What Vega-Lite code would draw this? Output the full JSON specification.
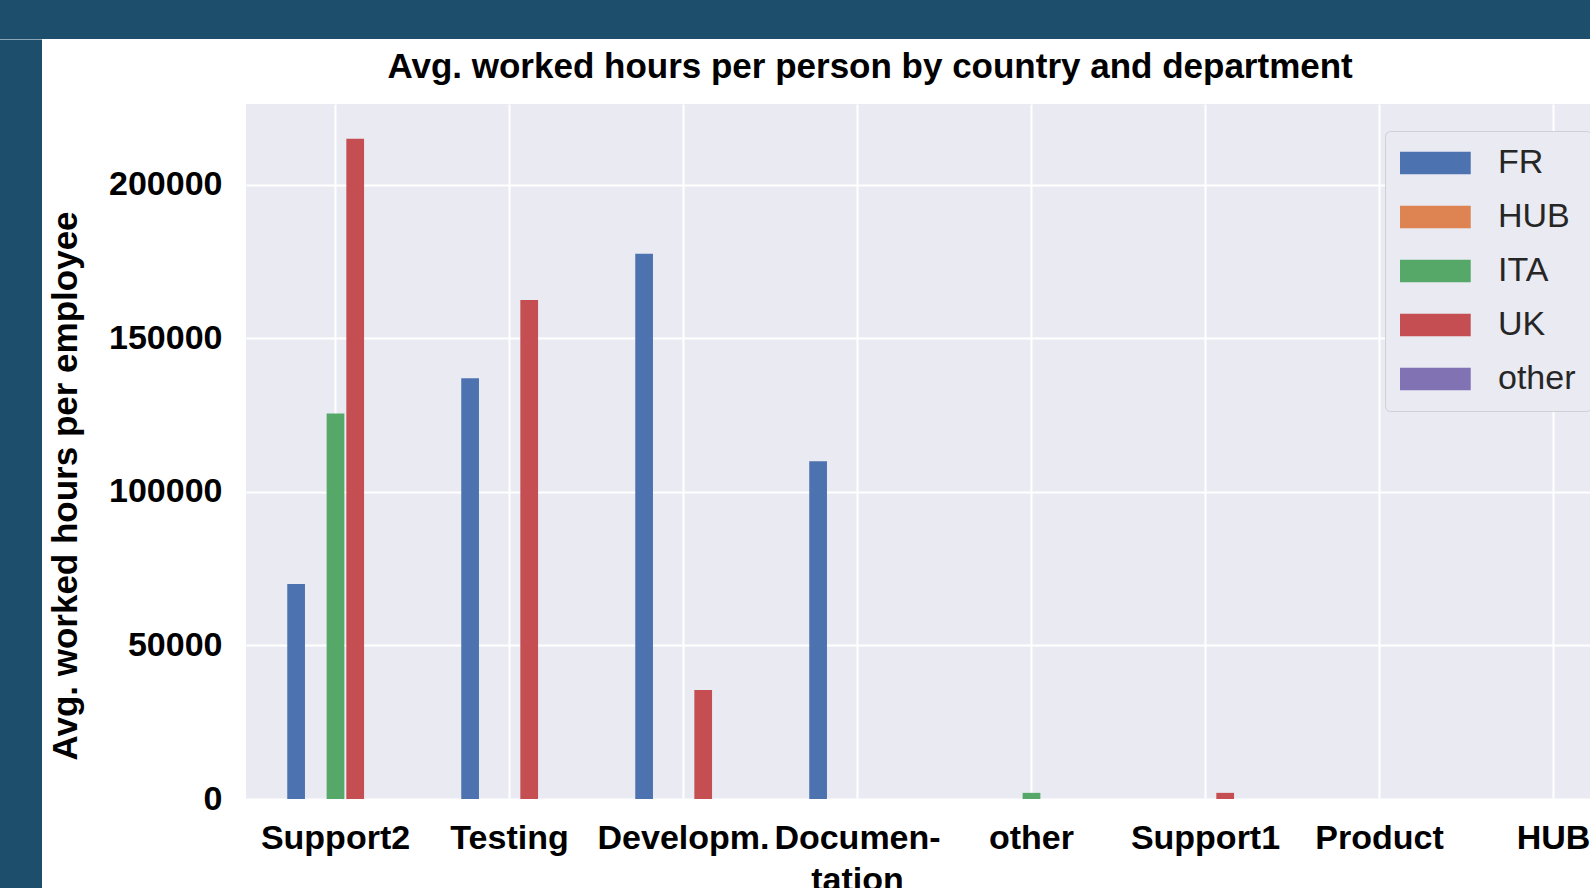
{
  "$schema": "https://vega.github.io/schema/vega-lite/v6.json",
  "background": "#ffffff",
  "padding": 0,
  "spacing": 0,
  "config": {
    "font": "Liberation Sans",
    "view": {"stroke": null}
  },
  "datasets": {
    "hours": [
      {"department": "Support2", "country": "FR", "hours": 70000},
      {"department": "Support2", "country": "ITA", "hours": 125500},
      {"department": "Support2", "country": "UK", "hours": 215000},
      {"department": "Testing", "country": "FR", "hours": 137000},
      {"department": "Testing", "country": "UK", "hours": 162500},
      {"department": "Developm.", "country": "FR", "hours": 177500},
      {"department": "Developm.", "country": "UK", "hours": 35500},
      {"department": "Documentation", "country": "FR", "hours": 110000},
      {"department": "other", "country": "ITA", "hours": 2000},
      {"department": "Support1", "country": "UK", "hours": 2000}
    ]
  },
  "vconcat": [
    {
      "width": 1590,
      "height": 39,
      "view": {"fill": "#1d4f6c", "stroke": null},
      "data": {"values": []},
      "mark": "rect",
      "encoding": {}
    },
    {
      "spacing": 6,
      "hconcat": [
        {
          "width": 42,
          "height": 849,
          "view": {"fill": "#1d4f6c", "stroke": null},
          "data": {"values": []},
          "mark": "rect",
          "encoding": {
            "x": {
              "field": "v",
              "type": "quantitative",
              "scale": {"domain": [0, 1]},
              "axis": {
                "orient": "top",
                "domain": true,
                "domainColor": "#1d4f6c",
                "domainWidth": 129,
                "domainCap": "butt",
                "domainOpacity": 1,
                "translate": 0,
                "labels": false,
                "ticks": false,
                "grid": false,
                "title": null,
                "offset": 0
              }
            }
          }
        },
        {
          "width": 1571,
          "height": 695,
          "data": {"name": "hours"},
          "view": {"fill": "#eaeaf2", "stroke": null},
          "title": {
            "text": ["", "Avg. worked hours per person by country and department"],
            "frame": "group",
            "anchor": "start",
            "dx": 141.5,
            "fontSize": 35,
            "fontWeight": "bold",
            "color": "#000000",
            "lineHeight": 11,
            "offset": 19
          },
          "mark": {"type": "bar"},
          "encoding": {
            "x": {
              "field": "department",
              "type": "nominal",
              "scale": {
                "domain": ["Support2", "Testing", "Developm.", "Documentation", "other", "Support1", "Product", "HUB", "IT"],
                "paddingInner": 0.4454,
                "paddingOuter": 0.2371
              },
              "axis": {
                "title": null,
                "labelAngle": 0,
                "labelFontSize": 34,
                "labelFontWeight": "bold",
                "labelColor": "#000000",
                "labelBaseline": "top",
                "labelPadding": 22,
                "labelLineHeight": 42,
                "labelExpr": "datum.value == 'Documentation' ? ['Documen-', 'tation'] : datum.value",
                "ticks": false,
                "domain": false,
                "grid": true,
                "gridColor": "#ffffff",
                "gridWidth": 2,
                "gridOpacity": 1,
                "tickBand": "center",
                "labelOverlap": false
              }
            },
            "xOffset": {
              "field": "country",
              "type": "nominal",
              "scale": {"domain": ["FR", "HUB", "ITA", "UK", "other"], "paddingInner": 0.1, "paddingOuter": 0}
            },
            "y": {
              "field": "hours",
              "type": "quantitative",
              "scale": {"domain": [0, 226300], "nice": false},
              "axis": {
                "values": [0, 50000, 100000, 150000, 200000],
                "format": "d",
                "labelFontSize": 34,
                "labelFontWeight": "bold",
                "labelColor": "#000000",
                "labelPadding": 24,
                "ticks": false,
                "domain": false,
                "grid": true,
                "gridColor": "#ffffff",
                "gridWidth": 2,
                "gridOpacity": 1,
                "title": "Avg. worked hours per employee",
                "titleFontSize": 35,
                "titleFontWeight": "bold",
                "titleColor": "#000000",
                "titleAngle": -90,
                "titleAlign": "center",
                "titleBaseline": "bottom",
                "titleX": -162.5,
                "titleY": 381.5
              }
            },
            "color": {
              "field": "country",
              "type": "nominal",
              "scale": {
                "domain": ["FR", "HUB", "ITA", "UK", "other"],
                "range": ["#4c72b0", "#dd8452", "#55a868", "#c44e52", "#8172b3"]
              },
              "legend": {
                "title": null,
                "orient": "none",
                "legendX": 1385,
                "legendY": 131,
                "padding": 15,
                "fillColor": "#eaeaf2",
                "strokeColor": "#cfcfd6",
                "cornerRadius": 5,
                "symbolType": "M-1,-0.667H3.16V0.667H-1Z",
                "symbolSize": 1156,
                "symbolStrokeWidth": 0,
                "symbolOpacity": 1,
                "labelFontSize": 34,
                "labelColor": "#262626",
                "labelOffset": 64,
                "rowPadding": 20,
                "labelFont": "Liberation Sans"
              }
            }
          }
        }
      ]
    }
  ]
}
